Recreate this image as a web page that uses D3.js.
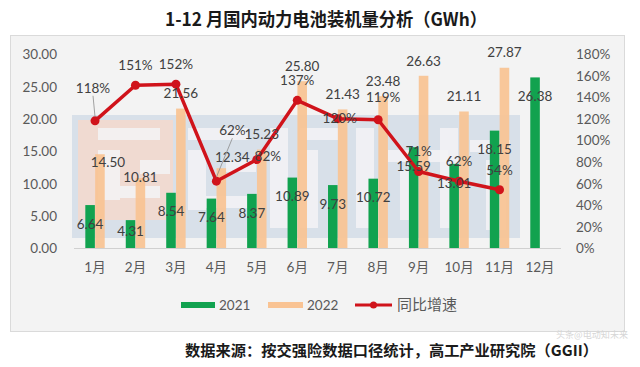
<!DOCTYPE html>
<html><head><meta charset="utf-8">
<script src="https://cdn.jsdelivr.net/npm/d3@7/dist/d3.min.js"></script>
<style>
html,body{margin:0;padding:0;background:#fff;}
svg{display:block;}
text{font-family:Lato,"Noto Sans CJK SC",sans-serif;}
</style></head>
<body>
<svg id="c" width="640" height="367"></svg>
<script>
// ---- data ----
const months = ["1月","2月","3月","4月","5月","6月","7月","8月","9月","10月","11月","12月"];
const v2021 = [6.64,4.31,8.54,7.64,8.37,10.89,9.73,10.72,15.59,13.01,18.15,26.38];
const v2022 = [14.50,10.81,21.56,12.34,15.23,25.80,21.43,23.48,26.63,21.11,27.87,null];
const growth = [1.18,1.51,1.52,0.62,0.82,1.37,1.20,1.19,0.71,0.62,0.54,null];
const leftTicks = [0,5,10,15,20,25,30];
const rightTicks = [0,0.2,0.4,0.6,0.8,1.0,1.2,1.4,1.6,1.8];
const seriesNames = ["2021","2022","同比增速"];

// ---- layout (label nudges, px) ----
const nudge2021 = {1:[0,-8]};
const nudge2022 = {0:[8,23],1:[0,14],3:[11,4]};
const nudgePct = {0:[-2,-13,true],3:[16,-31,true],4:[11,17],6:[2,20],7:[5,-2]};

const svg = d3.select("#c");
const C_G = "#11a24f", C_O = "#f9c393", C_R = "#d0131b";

// panel
svg.append("rect").attr("x",10.5).attr("y",35.5).attr("width",614).attr("height",296)
  .attr("fill","#f3f3f3").attr("stroke","#dadada");

// title
svg.append("text").attr("x",326).attr("y",26).attr("text-anchor","middle")
  .attr("font-size",18).attr("font-weight","bold").attr("fill","#1a1a1a")
  .style("font-family","'Noto Sans CJK SC',sans-serif")
  .attr("textLength",322).attr("lengthAdjust","spacingAndGlyphs")
  .text("1-12 月国内动力电池装机量分析（GWh）");

const x = d3.scaleBand().domain(months).range([74.8,560.2]).padding(0);
const step = x.step();
const xs = d3.scaleBand().domain(["2021","2022"]).range([step/2-10, step/2+10]).padding(0.03);
const yL = d3.scaleLinear().domain([0,30]).range([248,54]);
const yR = d3.scaleLinear().domain([0,1.8]).range([248,54]);
const cx = m => x(m)+step/2;

// watermark approximation
const wm = svg.append("g").attr("opacity",0.7);
wm.append("rect").attr("x",72).attr("y",115).attr("width",448).attr("height",123).attr("fill","#cdd8e6");
wm.append("rect").attr("x",78).attr("y",120).attr("width",95).attr("height",100).attr("fill","#efd0c3");
[[98,128,62,12],[98,150,22,50],[120,186,40,12],[140,160,30,14],
 [188,128,60,12],[188,150,18,60],[206,196,50,12],[226,160,30,12],
 [270,128,18,100],[300,128,40,12],[300,150,18,78],[356,128,18,100],
 [388,150,60,12],[400,170,18,50],[440,128,18,100],[470,140,40,12],[486,160,20,70]]
 .forEach(r=>wm.append("rect").attr("x",r[0]).attr("y",r[1]).attr("width",r[2]).attr("height",r[3]).attr("fill","#f4f5f7").attr("opacity",0.85));

// axis line
svg.append("line").attr("x1",74).attr("x2",561).attr("y1",248.5).attr("y2",248.5).attr("stroke","#d0d0d0");

// axes labels
const axL = svg.append("g").attr("transform","translate(57,0)")
  .call(d3.axisLeft(yL).tickValues(leftTicks).tickFormat(d3.format(".2f")).tickSize(0).tickPadding(0));
const axR = svg.append("g").attr("transform","translate(576,0)")
  .call(d3.axisRight(yR).tickValues(rightTicks).tickFormat(d3.format(".0%")).tickSize(0).tickPadding(0));
const axB = svg.append("g").attr("transform","translate(0,262)")
  .call(d3.axisBottom(x).tickSize(0).tickPadding(0));
[axL,axR,axB].forEach(a=>{a.select(".domain").remove();
  a.selectAll("text").attr("font-size",13.5).attr("fill","#595959").style("font-family","Lato,'Noto Sans CJK SC',sans-serif");});
axL.selectAll("text").attr("dy","0.35em");
axR.selectAll("text").attr("dy","0.35em");
axB.selectAll("text").attr("dy","0.71em");

// bars
svg.append("g").selectAll("rect").data(v2021).join("rect")
  .attr("x",(d,i)=>x(months[i])+xs("2021")).attr("width",xs.bandwidth())
  .attr("y",d=>yL(d)).attr("height",d=>yL(0)-yL(d)).attr("fill",C_G);
svg.append("g").selectAll("rect").data(v2022.map((d,i)=>[d,i]).filter(p=>p[0]!=null)).join("rect")
  .attr("x",p=>x(months[p[1]])+xs("2022")).attr("width",xs.bandwidth())
  .attr("y",p=>yL(p[0])).attr("height",p=>yL(0)-yL(p[0])).attr("fill",C_O).attr("opacity",0.92);

// line
const pts = growth.map((g,i)=>[g,i]).filter(p=>p[0]!=null);
svg.append("path").datum(pts).attr("fill","none").attr("stroke",C_R).attr("stroke-width",3.5)
  .attr("stroke-linejoin","round")
  .attr("d",d3.line().x(p=>cx(months[p[1]])).y(p=>yR(p[0])));
svg.append("g").selectAll("circle").data(pts).join("circle")
  .attr("cx",p=>cx(months[p[1]])).attr("cy",p=>yR(p[0])).attr("r",4.5).attr("fill",C_R);

// data labels
const lab = svg.append("g").attr("font-size",13.5).attr("fill","#404040").attr("text-anchor","middle");
v2021.forEach((d,i)=>{
  const n = nudge2021[i]||[0,0];
  lab.append("text").attr("x",x(months[i])+xs("2021")+xs.bandwidth()/2+n[0])
    .attr("y",yL(d)+19+n[1]).attr("dy","0.35em").text(d3.format(".2f")(d));
});
v2022.forEach((d,i)=>{
  if(d==null) return;
  const n = nudge2022[i]||[0,0];
  lab.append("text").attr("x",x(months[i])+xs("2022")+xs.bandwidth()/2+n[0])
    .attr("y",yL(d)-15+n[1]).attr("dy","0.35em").text(d3.format(".2f")(d));
});
pts.forEach(p=>{
  const i=p[1], n = nudgePct[i]||[0,0];
  const px=cx(months[i]), py=yR(p[0]);
  const lx=px+n[0], ly=py-20+n[1];
  if(n[2]) svg.append("line").attr("x1",lx).attr("y1",ly+8).attr("x2",px).attr("y2",py-4)
    .attr("stroke","#8c8c8c").attr("stroke-width",0.8);
  lab.append("text").attr("x",lx).attr("y",ly).attr("dy","0.35em").text(d3.format(".0%")(p[0]));
});

// legend
const lg = svg.append("g").attr("font-size",13.5).attr("fill","#595959");
lg.append("rect").attr("x",181).attr("y",302).attr("width",34).attr("height",6).attr("fill",C_G);
lg.append("text").attr("x",219).attr("y",305).attr("dy","0.35em").text(seriesNames[0]);
lg.append("rect").attr("x",268).attr("y",302).attr("width",35).attr("height",6).attr("fill",C_O);
lg.append("text").attr("x",307).attr("y",305).attr("dy","0.35em").text(seriesNames[1]);
lg.append("line").attr("x1",355).attr("x2",392).attr("y1",305).attr("y2",305).attr("stroke",C_R).attr("stroke-width",3);
lg.append("circle").attr("cx",373.5).attr("cy",305).attr("r",3.5).attr("fill",C_R);
lg.append("text").attr("x",397).attr("y",305).attr("dy","0.35em").style("font-family","'Noto Sans CJK SC',sans-serif").attr("font-size",15).text(seriesNames[2]);

// footer
svg.append("text").attr("x",185).attr("y",351).attr("dy","0.35em")
  .attr("font-size",15).attr("font-weight","bold").attr("fill","#1a1a1a")
  .style("font-family","'Noto Sans CJK SC',sans-serif")
  .attr("textLength",413).attr("lengthAdjust","spacingAndGlyphs")
  .text("数据来源：按交强险数据口径统计，高工产业研究院（GGII）");
svg.append("text").attr("x",556).attr("y",335).attr("dy","0.35em")
  .attr("font-size",9).attr("fill","#d6d6d6")
  .style("font-family","'Noto Sans CJK SC',sans-serif")
  .attr("textLength",72).attr("lengthAdjust","spacingAndGlyphs")
  .text("头条@电动知未来");
</script>
</body></html>
